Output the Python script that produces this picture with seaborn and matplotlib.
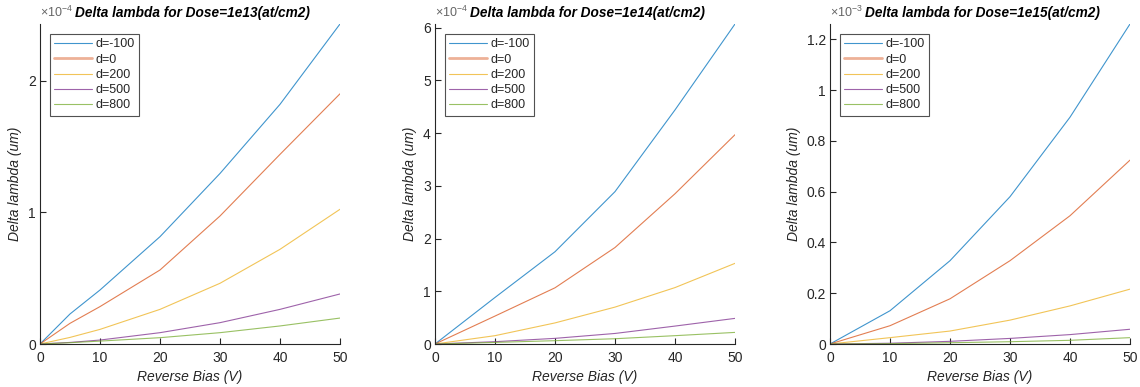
import numpy as np
import pandas as pd
import matplotlib
matplotlib.use("Agg")
import matplotlib.pyplot as plt
from matplotlib.ticker import FuncFormatter
import seaborn as sns

# ---------------- data (values in units of the axis multiplier) ----------------
series_labels = ["d=-100", "d=0", "d=200", "d=500", "d=800"]
bias_1e13 = [0, 5, 10, 20, 30, 40, 50]
bias_1e14 = [0, 10, 20, 30, 40, 50]
bias_1e15 = [0, 10, 20, 30, 40, 50]

# Dose = 1e13 (x1e-4 um)
d13_m100 = [0, 0.228, 0.41, 0.815, 1.295, 1.82, 2.43]
d13_0    = [0, 0.157, 0.284, 0.562, 0.972, 1.44, 1.90]
d13_200  = [0, 0.05, 0.111, 0.263, 0.461, 0.719, 1.023]
d13_500  = [0, 0.012, 0.03, 0.086, 0.162, 0.263, 0.38]
d13_800  = [0, 0.01, 0.022, 0.048, 0.086, 0.137, 0.197]

# Dose = 1e14 (x1e-4 um)
d14_m100 = [0, 0.883, 1.75, 2.89, 4.44, 6.07]
d14_0    = [0, 0.53, 1.066, 1.83, 2.85, 3.97]
d14_200  = [0, 0.158, 0.40, 0.70, 1.07, 1.53]
d14_500  = [0, 0.044, 0.107, 0.20, 0.34, 0.486]
d14_800  = [0, 0.03, 0.063, 0.10, 0.158, 0.22]

# Dose = 1e15 (x1e-3 um)
d15_m100 = [0, 0.131, 0.328, 0.58, 0.893, 1.26]
d15_0    = [0, 0.072, 0.178, 0.328, 0.505, 0.724]
d15_200  = [0, 0.025, 0.051, 0.094, 0.15, 0.216]
d15_500  = [0, 0.003, 0.0105, 0.022, 0.037, 0.058]
d15_800  = [0, 0.0015, 0.005, 0.009, 0.0145, 0.025]

titles = ["Delta lambda for Dose=1e13(at/cm2)",
          "Delta lambda for Dose=1e14(at/cm2)",
          "Delta lambda for Dose=1e15(at/cm2)"]
multipliers = ["$\\times10^{-4}$", "$\\times10^{-4}$", "$\\times10^{-3}$"]
x_ticks = [0, 10, 20, 30, 40, 50]
y_ticks_1 = [0, 1, 2]
y_ticks_2 = [0, 1, 2, 3, 4, 5, 6]
y_ticks_3 = [0, 0.2, 0.4, 0.6, 0.8, 1.0, 1.2]

panels = [
    (bias_1e13, [d13_m100, d13_0, d13_200, d13_500, d13_800], y_ticks_1),
    (bias_1e14, [d14_m100, d14_0, d14_200, d14_500, d14_800], y_ticks_2),
    (bias_1e15, [d15_m100, d15_0, d15_200, d15_500, d15_800], y_ticks_3),
]

colors = ["#0072BD", "#D95319", "#EDB120", "#7E2F8E", "#77AC30"]

sns.set_theme(style="white")
plt.rcParams["font.family"] = ["Liberation Sans", "DejaVu Sans"]
plt.rcParams["mathtext.fontset"] = "custom"
plt.rcParams["mathtext.rm"] = "Liberation Sans"

fig = plt.figure(figsize=(11.4, 3.87), dpi=100)
fig.patch.set_facecolor("white")

lefts = [40 / 1140, 435 / 1140, 830 / 1140]
width = 300 / 1140
bottom = (387 - 344) / 387
height = 320 / 387
axis_col = "#262626"

for i, (xs, ys_list, yt) in enumerate(panels):
    ax = fig.add_axes([lefts[i], bottom, width, height])
    rows = []
    for lab, ys in zip(series_labels, ys_list):
        for xv, yv in zip(xs, ys):
            rows.append({"bias": xv, "dl": yv, "d": lab})
    df = pd.DataFrame(rows)
    sns.lineplot(data=df, x="bias", y="dl", hue="d", hue_order=series_labels,
                 palette=colors, linewidth=0.8, alpha=0.75, ax=ax, legend=True,
                 estimator=None, sort=False)
    ymax = max(max(s) for s in ys_list)
    ax.set_xlim(0, 50)
    ax.set_ylim(0, ymax)
    ax.set_xticks(x_ticks)
    ax.set_yticks(yt)
    ax.yaxis.set_major_formatter(FuncFormatter(lambda v, p: f"{v:g}"))
    for s in ["top", "right"]:
        ax.spines[s].set_visible(False)
    for s in ["left", "bottom"]:
        ax.spines[s].set_color(axis_col)
        ax.spines[s].set_linewidth(0.8)
    ax.tick_params(axis="both", direction="in", length=4, width=0.8,
                   colors=axis_col, labelsize=10, bottom=True, left=True)
    ax.tick_params(axis="x", pad=5)
    ax.tick_params(axis="y", pad=3)
    ax.set_xlabel("Reverse Bias (V)", fontsize=10, style="italic", color=axis_col, labelpad=4)
    ax.set_ylabel("Delta lambda (um)", fontsize=10, style="italic", color=axis_col, labelpad=4)
    ax.text(0.507, 1.012, titles[i], transform=ax.transAxes, fontsize=9.8,
            fontweight="bold", style="italic", color="black", ha="center", va="bottom")
    ax.text(0.0, 1.012, multipliers[i], transform=ax.transAxes, fontsize=9,
            color="#666666", ha="left", va="bottom")
    leg = ax.legend(loc="upper left", bbox_to_anchor=(10 / 300, 1 - 10 / 320),
                    borderaxespad=0, fontsize=9,
                    frameon=True, fancybox=False, edgecolor=axis_col,
                    handlelength=3.0, labelspacing=0.26, borderpad=0.35,
                    handletextpad=0.3, title=None)
    leg.get_frame().set_linewidth(0.8)
    for t in leg.get_texts():
        t.set_color(axis_col)
    for j, h in enumerate(leg.get_lines()):
        h.set_linewidth(0.8)
        h.set_alpha(0.75)
        if j == 1:
            h.set_linewidth(2.0)
            h.set_alpha(0.45)
    ax.grid(False)

fig.savefig("out.png", dpi=100, facecolor="white")
